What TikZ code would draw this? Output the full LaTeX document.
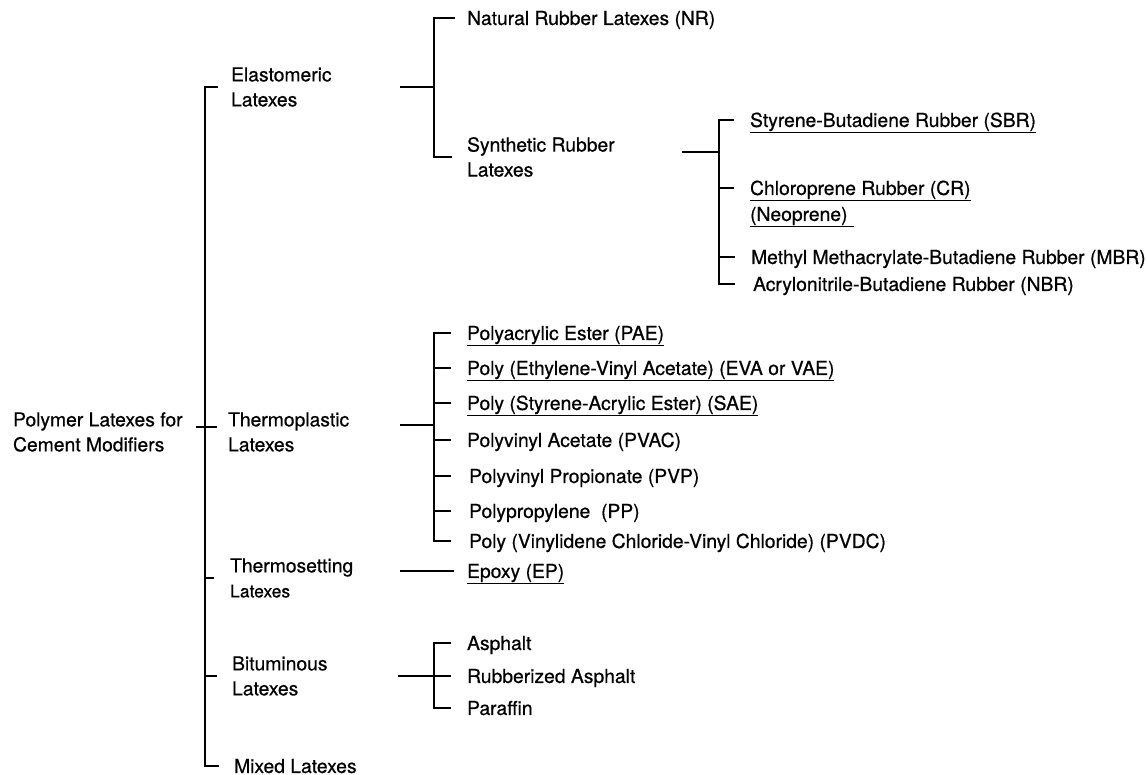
\documentclass[tikz,border=0pt]{standalone}
\usepackage{fontspec}
\setmainfont{TeX Gyre Heros}[FakeBold=0.6]
\begin{document}
\begin{tikzpicture}[x=1pt, y=-1pt, line width=2.2pt]
	\tikzstyle{text_group} = [anchor=west, inner sep=0pt, align=left, font=\fontsize{19.3}{25}\selectfont]
	\tikzstyle{text_item} = [anchor=west, inner sep=0pt, text height=13.9pt, text depth=0pt, font=\fontsize{19.3}{25}\selectfont]

	\useasboundingbox (0,0) rectangle (1146,775);

%------------------------------------------------------------
	\node[text_group] (root) at (12,432) {Polymer Latexes for\\Cement Modifiers};

	\node[text_group] (elast)   at (230,87)  {Elastomeric\\Latexes};
	\node[text_group] (thplast) at (227,432) {Thermoplastic\\Latexes};
	\node[text_group] (thset)   at (229,578) {Thermosetting\\{\fontsize{17.5}{20}\selectfont Latexes}};
	\node[text_group] (bitum)   at (231,676) {Bituminous\\Latexes};
	\node[text_item]  (mixed)   at (233,766) {Mixed Latexes};

	\coordinate (mainX) at (205,0);

	\draw ([xshift=12,yshift=5]root.east) -- ([xshift=-10,yshift=5]thplast.west);
	\draw ([xshift=-12]elast.west) -| (mainX |- mixed.west) -- ([xshift=-14]mixed.west);
	\draw (mainX |- thset.west) -- ([xshift=-15]thset.west);
	\draw (mainX |- bitum.west) -- ([xshift=-14]bitum.west);

%------------------------------------------------------------
	\node[text_item]  (nr)    at (466,18)  {Natural Rubber Latexes (NR)};
	\node[text_group] (synth) at (466,157) {Synthetic Rubber\\Latexes};

	\coordinate (elastS) at (400,87);
	\coordinate (elastJ) at (434,87);

	\draw (elastS) -- (elastJ);
	\draw ([xshift=-11]nr.west) -| (elastJ |- synth.west) -- ([xshift=-14]synth.west);

%------------------------------------------------------------
	\node[text_item] (sbr) at (749,120) {\underline{Styrene-Butadiene Rubber (SBR)}};
	\node[text_item] (cr)  at (749,188) {\underline{Chloroprene Rubber (CR)}};
	\node[text_item] (neo) at (749,214) {\underline{(Neoprene)\,\,}};
	\node[text_item] (mbr) at (750,257) {Methyl Methacrylate-Butadiene Rubber (MBR)};
	\node[text_item] (nbr) at (752,284) {Acrylonitrile-Butadiene Rubber (NBR)};

	\coordinate (synthS) at (682,152);
	\coordinate (synthJ) at (719,152);

	\draw (synthS) -- (synthJ);
	\draw ([xshift=-15]sbr.west) -| (synthJ |- nbr.west) -- ([xshift=-17]nbr.west);
	\draw (synthJ |- cr.west) -- ([xshift=-15]cr.west);
	\draw (synthJ |- mbr.west) -- ([xshift=-15]mbr.west);

%------------------------------------------------------------
	\node[text_item] (pae)  at (466,333) {\underline{Polyacrylic Ester (PAE)}};
	\node[text_item] (eva)  at (466,368) {\underline{Poly (Ethylene-Vinyl Acetate) (EVA or VAE)}};
	\node[text_item] (sae)  at (466,403) {\underline{Poly (Styrene-Acrylic Ester) (SAE)}};
	\node[text_item] (pvac) at (466,440) {Polyvinyl Acetate (PVAC)};
	\node[text_item] (pvp)  at (468,476) {Polyvinyl Propionate (PVP)};
	\node[text_item] (pp)   at (468,511) {Polypropylene\ \ (PP)};
	\node[text_item] (pvdc) at (468,541) {Poly (Vinylidene Chloride-Vinyl Chloride) (PVDC)};

	\coordinate (thplastS) at (400,425);
	\coordinate (thplastJ) at (434,425);

	\draw (thplastS) -- (thplastJ);
	\draw ([xshift=-15]pae.west) -| (thplastJ |- pvdc.west) -- ([xshift=-17]pvdc.west);
	\draw (thplastJ |- eva.west)  -- ([xshift=-15]eva.west);
	\draw (thplastJ |- sae.west)  -- ([xshift=-15]sae.west);
	\draw (thplastJ |- pvac.west) -- ([xshift=-15]pvac.west);
	\draw (thplastJ |- pvp.west)  -- ([xshift=-17]pvp.west);
	\draw (thplastJ |- pp.west)   -- ([xshift=-17]pp.west);

%------------------------------------------------------------
	\node[text_item] (ep) at (466,571) {\underline{Epoxy (EP)}};

	\coordinate (thsetS) at (400,571);

	\draw (thsetS) -- ([xshift=-12]ep.west);

%------------------------------------------------------------
	\node[text_item] (asph) at (466,643) {Asphalt};
	\node[text_item] (rub)  at (466,676) {Rubberized Asphalt};
	\node[text_item] (par)  at (466,708) {Paraffin};

	\coordinate (bitumS) at (398,676);
	\coordinate (bitumJ) at (434,676);

	\draw (bitumS) -- (bitumJ);
	\draw ([xshift=-15]asph.west) -| (bitumJ |- par.west) -- ([xshift=-15]par.west);
	\draw (bitumJ |- rub.west) -- ([xshift=-15]rub.west);

\end{tikzpicture}
\end{document}
